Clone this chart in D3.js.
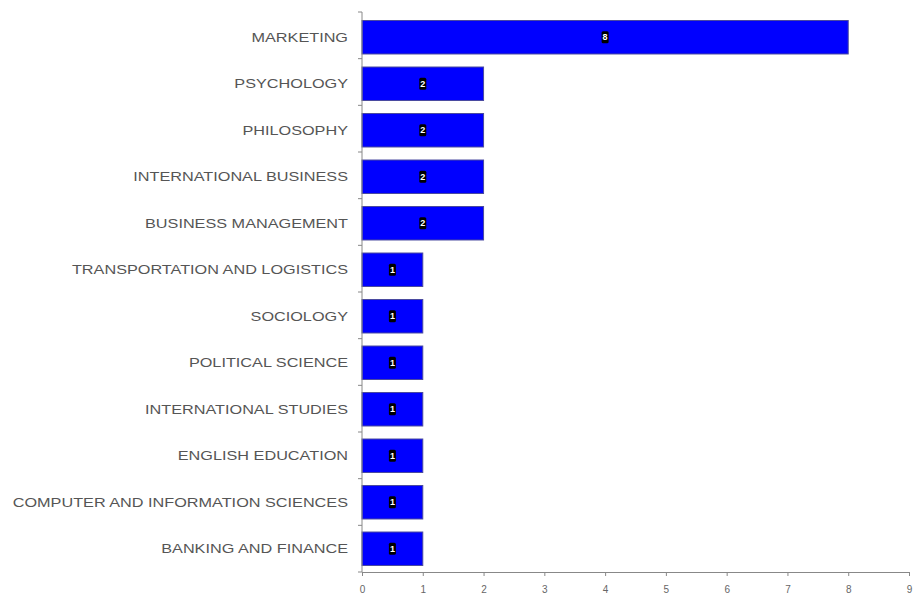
<!DOCTYPE html>
<html>
<head>
<meta charset="utf-8">
<script src="https://cdn.jsdelivr.net/npm/d3@7"></script>
<style>
  html, body { margin: 0; padding: 0; background: #fff; }
  svg text { font-family: "Liberation Sans", Arial, sans-serif; }
</style>
</head>
<body>
<svg id="chart" width="916" height="601"></svg>
<script>
// Majors, top to bottom, with the count for each
const categories = [
  "MARKETING", "PSYCHOLOGY", "PHILOSOPHY", "INTERNATIONAL BUSINESS",
  "BUSINESS MANAGEMENT", "TRANSPORTATION AND LOGISTICS", "SOCIOLOGY",
  "POLITICAL SCIENCE", "INTERNATIONAL STUDIES", "ENGLISH EDUCATION",
  "COMPUTER AND INFORMATION SCIENCES", "BANKING AND FINANCE"
];
const counts = [8, 2, 2, 2, 2, 1, 1, 1, 1, 1, 1, 1];
const xTicks = [0, 1, 2, 3, 4, 5, 6, 7, 8, 9];

const svg = d3.select("#chart");
const plotLeft = 362, plotRight = 909, plotTop = 12, plotBottom = 572;

const x = d3.scaleLinear().domain([0, 9]).range([plotLeft, plotRight]);
const y = d3.scaleBand().domain(categories).range([plotTop + 2, plotBottom]).paddingInner(0.28).paddingOuter(0.14);

const data = categories.map((c, i) => ({ cat: c, val: counts[i] }));

// bars
svg.append("g").selectAll("rect").data(data).join("rect")
  .attr("x", x(0))
  .attr("y", d => y(d.cat))
  .attr("width", d => x(d.val) - x(0))
  .attr("height", y.bandwidth())
  .attr("fill", "#0000ff")
  .attr("stroke", "#4a4aa0")
  .attr("stroke-width", 1);

// value labels: white digit on a small black tag
const lab = svg.append("g").selectAll("g").data(data).join("g")
  .attr("transform", d => `translate(${(x(0) + x(d.val)) / 2},${y(d.cat) + y.bandwidth() / 2})`);
lab.append("rect").attr("x", -3.5).attr("y", -6).attr("width", 7).attr("height", 12).attr("rx", 1.5)
  .attr("fill", "#000");
lab.append("text").attr("text-anchor", "middle").attr("dy", "0.35em")
  .attr("font-size", 9).attr("font-weight", "bold").attr("fill", "#fff")
  .text(d => d.val);

// x axis
const xAxis = d3.axisBottom(x).tickValues(xTicks).tickSize(4).tickPadding(10).tickFormat(d3.format("d"));
const gx = svg.append("g").attr("transform", `translate(0,${plotBottom})`).call(xAxis);
gx.select(".domain").attr("stroke", "#888");
gx.selectAll(".tick line").attr("stroke", "#888");
gx.selectAll(".tick text").attr("font-size", 10).attr("fill", "#666");

// y axis line with ticks at band boundaries
const gy = svg.append("g");
gy.append("line").attr("x1", plotLeft).attr("x2", plotLeft).attr("y1", plotTop).attr("y2", plotBottom)
  .attr("stroke", "#888");
const bounds = d3.range(categories.length + 1).map(i => plotTop + i * (plotBottom - plotTop) / categories.length);
gy.selectAll("line.tk").data(bounds).join("line").attr("class", "tk")
  .attr("x1", plotLeft - 4).attr("x2", plotLeft).attr("y1", d => d).attr("y2", d => d)
  .attr("stroke", "#888");

// category labels, in a wide face
svg.append("g").selectAll("text").data(categories).join("text")
  .attr("transform", d => `translate(348,${y(d) + y.bandwidth() / 2}) scale(1.3,1)`)
  .attr("dy", "0.35em")
  .attr("text-anchor", "end")
  .attr("font-size", 12.5)
  .attr("fill", "#555")
  .text(d => d);
</script>
</body>
</html>
